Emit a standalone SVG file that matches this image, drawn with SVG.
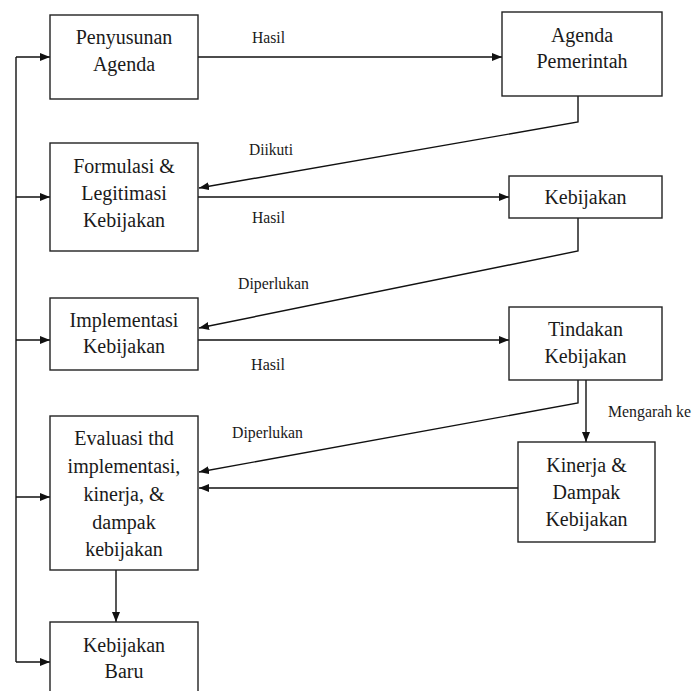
<svg xmlns="http://www.w3.org/2000/svg" width="696" height="691" viewBox="0 0 696 691">
<defs>
<marker id="ah" markerUnits="userSpaceOnUse" markerWidth="10" markerHeight="8" refX="10" refY="4" orient="auto">
<path d="M0,0 L10,4 L0,8 z" fill="#111"/>
</marker>
<style>
.box{fill:#fff;stroke:#222;stroke-width:1.4}
.t{font-size:20px;fill:#1a1a1a;text-anchor:middle}
.l{font-size:17px;fill:#1a1a1a}
.c{fill:none;stroke:#111;stroke-width:1.4}
</style>
</defs>
<rect width="696" height="691" fill="#fff"/>
<g font-family="'Liberation Serif', 'Times New Roman', serif">
<g id="connectors">
<path class="c" d="M16,57 V662"/>
<path class="c" d="M16,57 H50" marker-end="url(#ah)"/>
<path class="c" d="M16,197 H50" marker-end="url(#ah)"/>
<path class="c" d="M16,340 H50" marker-end="url(#ah)"/>
<path class="c" d="M16,497 H50" marker-end="url(#ah)"/>
<path class="c" d="M16,662 H50" marker-end="url(#ah)"/>
<path class="c" d="M198,57 H502" marker-end="url(#ah)"/>
<path class="c" d="M578,96 V122 L199,188" marker-end="url(#ah)"/>
<path class="c" d="M198,197 H509" marker-end="url(#ah)"/>
<path class="c" d="M578,218 V251 L199,328" marker-end="url(#ah)"/>
<path class="c" d="M198,340 H509" marker-end="url(#ah)"/>
<path class="c" d="M578,380 V403 L199,472" marker-end="url(#ah)"/>
<path class="c" d="M586,380 V442" marker-end="url(#ah)"/>
<path class="c" d="M518,488 H199" marker-end="url(#ah)"/>
<path class="c" d="M116,570 V622" marker-end="url(#ah)"/>
<text class="l" x="252" y="43" textLength="33" lengthAdjust="spacingAndGlyphs">Hasil</text>
<text class="l" x="249" y="155" textLength="44" lengthAdjust="spacingAndGlyphs">Diikuti</text>
<text class="l" x="252" y="223" textLength="33" lengthAdjust="spacingAndGlyphs">Hasil</text>
<text class="l" x="238" y="289" textLength="71" lengthAdjust="spacingAndGlyphs">Diperlukan</text>
<text class="l" x="251" y="370" textLength="34" lengthAdjust="spacingAndGlyphs">Hasil</text>
<text class="l" x="232" y="438" textLength="71" lengthAdjust="spacingAndGlyphs">Diperlukan</text>
<text class="l" x="608" y="417" textLength="83" lengthAdjust="spacingAndGlyphs">Mengarah ke</text>
</g>
<g id="penyusunan">
<rect class="box" x="50" y="15" width="148" height="84"/>
<text class="t" x="124" y="44">Penyusunan</text>
<text class="t" x="124" y="71">Agenda</text>
</g>
<g id="agenda-pemerintah">
<rect class="box" x="502" y="12" width="160" height="84"/>
<text class="t" x="582" y="42">Agenda</text>
<text class="t" x="582" y="68">Pemerintah</text>
</g>
<g id="formulasi">
<rect class="box" x="50" y="143" width="148" height="108"/>
<text class="t" x="124" y="173">Formulasi &amp;</text>
<text class="t" x="124" y="200">Legitimasi</text>
<text class="t" x="124" y="227">Kebijakan</text>
</g>
<g id="kebijakan">
<rect class="box" x="509" y="176" width="153" height="42"/>
<text class="t" x="585.5" y="204">Kebijakan</text>
</g>
<g id="implementasi">
<rect class="box" x="50" y="298" width="148" height="72"/>
<text class="t" x="124" y="327">Implementasi</text>
<text class="t" x="124" y="353">Kebijakan</text>
</g>
<g id="tindakan">
<rect class="box" x="509" y="307" width="153" height="73"/>
<text class="t" x="585.5" y="336">Tindakan</text>
<text class="t" x="585.5" y="363">Kebijakan</text>
</g>
<g id="kinerja">
<rect class="box" x="518" y="442" width="137" height="100"/>
<text class="t" x="586.5" y="472">Kinerja &amp;</text>
<text class="t" x="586.5" y="499">Dampak</text>
<text class="t" x="586.5" y="526">Kebijakan</text>
</g>
<g id="evaluasi">
<rect class="box" x="50" y="416" width="148" height="154"/>
<text class="t" x="124" y="445">Evaluasi thd</text>
<text class="t" x="124" y="473">implementasi,</text>
<text class="t" x="124" y="501">kinerja, &amp;</text>
<text class="t" x="124" y="529">dampak</text>
<text class="t" x="124" y="556">kebijakan</text>
</g>
<g id="kebijakan-baru">
<rect class="box" x="50" y="622" width="148" height="80"/>
<text class="t" x="124" y="652">Kebijakan</text>
<text class="t" x="124" y="678">Baru</text>
</g>
</g>
</svg>
